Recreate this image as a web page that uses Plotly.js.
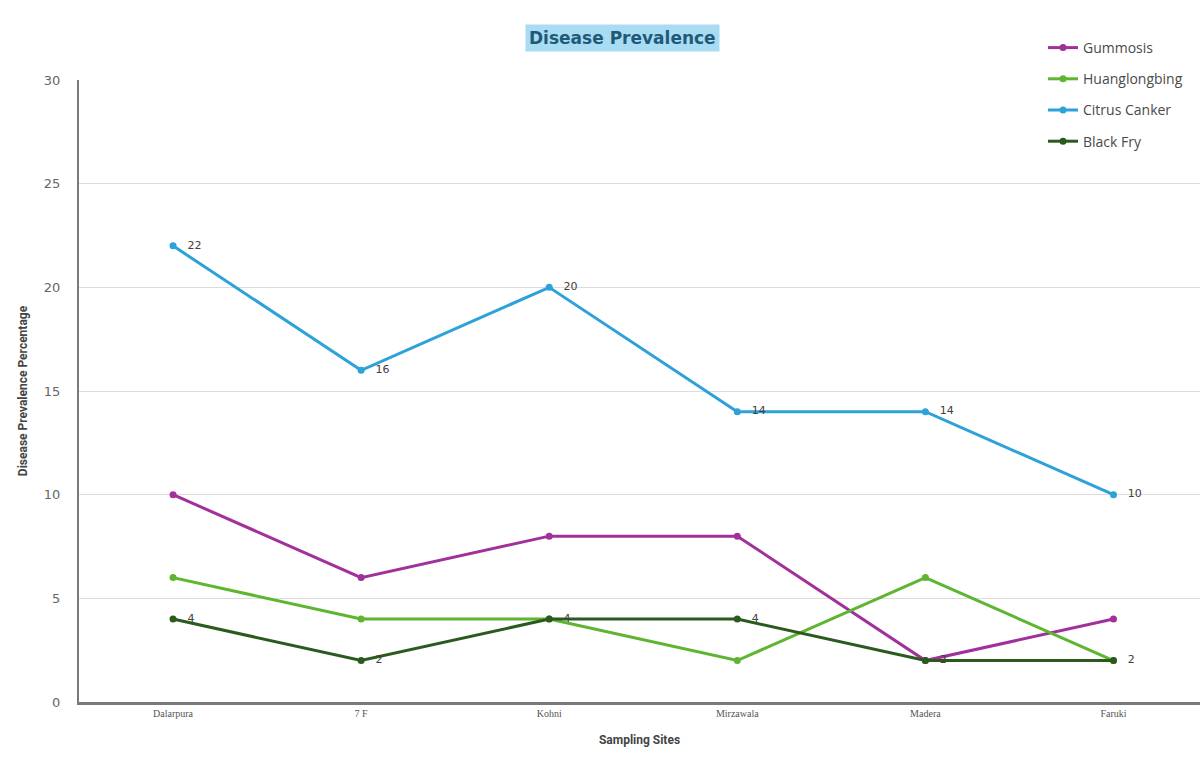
<!DOCTYPE html>
<html>
<head>
<meta charset="utf-8">
<script src="https://cdn.plot.ly/plotly-3.0.1.min.js"></script>
<style>html,body{margin:0;padding:0;background:#fff;}#chart{width:1203px;height:758px;}</style>
</head>
<body>
<div id="chart"></div>
<script>
const sites = ["Dalarpura", "7 F", "Kohni", "Mirzawala", "Madera", "Faruki"];
const gummosis = [10, 6, 8, 8, 2, 4];
const huanglongbing = [6, 4, 4, 2, 6, 2];
const citrusCanker = [22, 16, 20, 14, 14, 10];
const blackFry = [4, 2, 4, 4, 2, 2];
const yTicks = [0, 5, 10, 15, 20, 25, 30];

function series(name, y, color, showLabels) {
  return {
    x: sites, y: y, name: name, type: 'scatter', legendgroup: name,
    mode: showLabels ? 'lines+markers+text' : 'lines+markers',
    text: showLabels ? y.map(v => '\u2002 ' + v) : undefined,
    textposition: 'middle right',
    textfont: {family: 'DejaVu Sans, sans-serif', size: 11, color: '#404040'},
    line: {color: color, width: 3},
    marker: {color: color, size: 7},
    cliponaxis: false
  };
}

const data = [
  series('Gummosis', gummosis, '#a2309b', false),
  series('Huanglongbing', huanglongbing, '#5db530', false),
  series('Citrus Canker', citrusCanker, '#2da2d8', true),
  series('Black Fry', blackFry, '#2b5a1f', true)
];

const layout = {
  width: 1203, height: 758,
  margin: {l: 79, r: 3, t: 80, b: 56},
  paper_bgcolor: '#fff', plot_bgcolor: '#fff',
  showlegend: true,
  legend: {
    font: {family: 'Open Sans, sans-serif', size: 14, color: '#4a4a4a'},
    bgcolor: 'rgba(0,0,0,0)', tracegroupgap: 10, itemwidth: 30
  },
  xaxis: {
    type: 'category', range: [-0.5, 5.46],
    showline: true, linecolor: '#7a7a7a', linewidth: 3,
    showgrid: false, zeroline: false, ticks: '',
    tickfont: {family: 'Liberation Serif, serif', size: 10, color: '#555'},
    title: {text: '<b>Sampling Sites</b>', font: {family: 'Liberation Sans Narrow, Roboto, sans-serif', size: 12, color: '#444'}, standoff: 18}
  },
  yaxis: {
    range: [0, 30], tickvals: yTicks, ticktext: yTicks.map(String),
    showline: true, linecolor: '#7a7a7a', linewidth: 2,
    showgrid: true, gridcolor: '#dcdcdc', gridwidth: 1, zeroline: false,
    ticks: 'outside', ticklen: 14, tickcolor: 'rgba(0,0,0,0)',
    tickfont: {family: 'DejaVu Sans, sans-serif', size: 13, color: '#666'},
    title: {text: '<b>Disease Prevalence Percentage</b>', font: {family: 'Liberation Sans Narrow, Roboto, sans-serif', size: 12, color: '#444'}, standoff: 14}
  },
  annotations: [{
    text: '<b>Disease Prevalence</b>', xref: 'paper', yref: 'paper',
    x: 0.485, y: 1.09, showarrow: false,
    font: {family: 'DejaVu Sans, sans-serif', size: 17, color: '#1e5a78'},
    bgcolor: '#a9dcf3', borderpad: 3
  }]
};
layout.legend.x = (1043 - 79) / 1121;
layout.legend.y = (758 - 56 - 32) / 622;
Plotly.newPlot('chart', data, layout, {displayModeBar: false});
</script>
</body>
</html>
